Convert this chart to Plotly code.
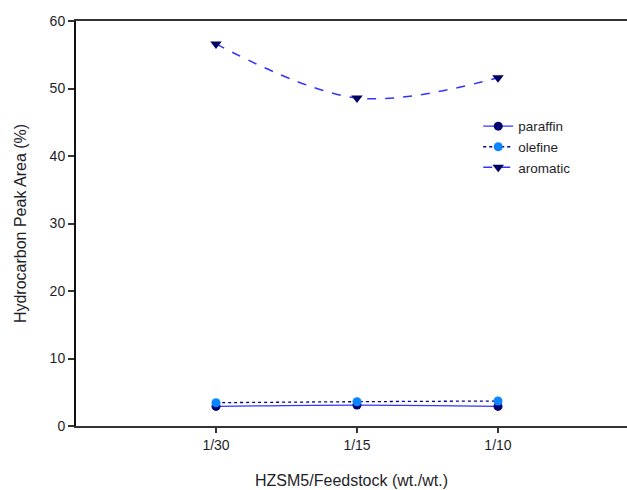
import plotly.graph_objects as go

categories = ["1/30", "1/15", "1/10"]
paraffin = [2.9, 3.1, 2.9]
olefine = [3.45, 3.6, 3.7]
aromatic = [56.6, 48.6, 51.6]

xs = list(range(len(categories)))

fig = go.Figure()
fig.add_trace(go.Scatter(
    x=xs, y=paraffin, name="paraffin", mode="lines+markers",
    line=dict(color="#3535ff", width=1.3, shape="spline"),
    marker=dict(symbol="circle", size=9, color="#000070"),
))
fig.add_trace(go.Scatter(
    x=xs, y=olefine, name="olefine", mode="lines+markers",
    line=dict(color="#000090", width=1.3, dash="dot", shape="spline"),
    marker=dict(symbol="circle", size=9, color="#0a84ff"),
))
fig.add_trace(go.Scatter(
    x=xs, y=aromatic, name="aromatic", mode="lines+markers",
    line=dict(color="#3333ff", width=1.5, dash="dash", shape="spline"),
    marker=dict(symbol="triangle-down", size=10, color="#000060"),
))

font_family = "Liberation Sans, Arial, sans-serif"
fig.update_layout(
    width=627, height=490,
    margin=dict(l=76, r=0, t=21, b=64),
    paper_bgcolor="white", plot_bgcolor="white",
    font=dict(family=font_family, size=14, color="#1e1e28"),
    showlegend=True,
    legend=dict(x=0.73, y=0.778, xanchor="left", yanchor="top",
                bgcolor="rgba(0,0,0,0)", font=dict(size=13.5),
                tracegroupgap=0, itemwidth=30),
    xaxis=dict(
        range=[-0.993, 2.915],
        tickmode="array", tickvals=xs, ticktext=categories,
        showline=True, linecolor="#333", linewidth=2, mirror=True,
        ticks="outside", ticklen=5, tickcolor="#333", tickwidth=1.5,
        showgrid=False, zeroline=False,
        tickfont=dict(size=14),
        title=dict(text="HZSM5/Feedstock (wt./wt.)", font=dict(size=16), standoff=23),
    ),
    yaxis=dict(
        range=[0, 60], tickvals=[0, 10, 20, 30, 40, 50, 60],
        showline=True, linecolor="#111", linewidth=2,
        ticks="outside", ticklen=6, tickcolor="#333", tickwidth=1.5,
        showgrid=False, zeroline=False,
        tickfont=dict(size=14),
        title=dict(text="Hydrocarbon Peak Area (%)", font=dict(size=16), standoff=19),
    ),
)

fig.write_html("out.html")
